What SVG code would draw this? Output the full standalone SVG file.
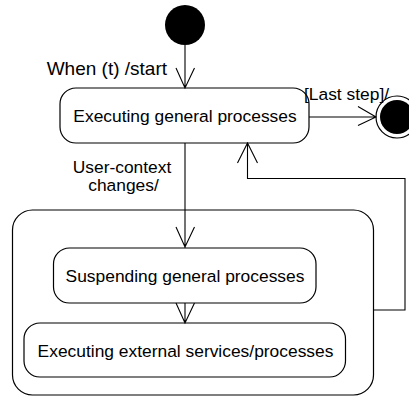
<svg xmlns="http://www.w3.org/2000/svg" width="409" height="397" viewBox="0 0 409 397">
<style>
.st{fill:#fff;stroke:#000;stroke-width:1.2}
.t{font-family:"Liberation Sans",Arial,sans-serif;font-size:17.4px;fill:#000}
.c{fill:none;stroke:#000;stroke-width:1.1}
</style>
<rect width="409" height="397" fill="#fff"/>
<g id="composite">
<rect class="st" x="12.5" y="210" width="361" height="185" rx="20"/>
</g>
<g id="initial">
<circle cx="185" cy="25" r="20" fill="#000"/>
</g>
<g id="final">
<circle cx="397" cy="117" r="21" fill="#fff" stroke="#000" stroke-width="1.2"/>
<circle cx="397" cy="117" r="17" fill="#000"/>
</g>
<g id="executing-general">
<rect class="st" x="60" y="88" width="249" height="55" rx="16"/>
<text class="t" x="185" y="122" text-anchor="middle">Executing general processes</text>
</g>
<g id="suspending">
<rect class="st" x="53.5" y="248" width="262.5" height="55" rx="16"/>
<text class="t" x="185" y="281.5" text-anchor="middle">Suspending general processes</text>
</g>
<g id="executing-external">
<rect class="st" x="24" y="323" width="321.5" height="54" rx="16"/>
<text class="t" x="185.5" y="356.5" text-anchor="middle">Executing external services/processes</text>
</g>
<g id="connectors">
<path class="c" d="M185 45V88M176 68L185 88L194.5 68"/>
<path class="c" d="M185 143V248M176 227L185 247L194.5 227"/>
<path class="c" d="M185 303V323M176 303L185 323L194.5 303"/>
<path class="c" d="M309 117H376M358 106.5L376 117L358 125.5"/>
<path class="c" d="M373.5 310H405V178.5H247.5V143M237.5 163L247.5 143L257.5 163"/>
<text class="t" x="167" y="75" text-anchor="end" style="font-size:19px">When (t) /start</text>
<text class="t" x="304" y="99.5">[Last step]/</text>
<text class="t" x="122" y="173" text-anchor="middle">User-context</text>
<text class="t" x="123.5" y="191" text-anchor="middle">changes/</text>
</g>
</svg>
